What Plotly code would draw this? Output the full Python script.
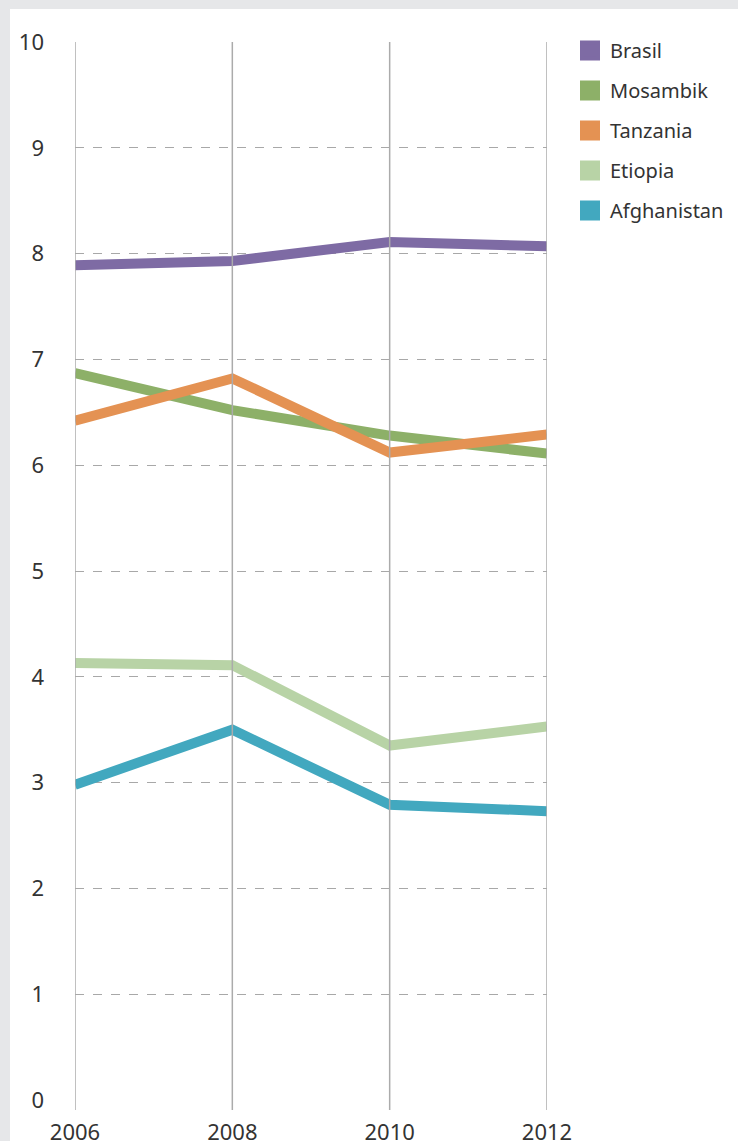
import plotly.graph_objects as go

years = [2006, 2008, 2010, 2012]
series_names = ["Brasil", "Mosambik", "Tanzania", "Etiopia", "Afghanistan"]
brasil = [7.89, 7.93, 8.11, 8.07]
mosambik = [6.87, 6.52, 6.28, 6.11]
tanzania = [6.42, 6.82, 6.12, 6.29]
etiopia = [4.13, 4.11, 3.35, 3.53]
afghanistan = [2.98, 3.50, 2.79, 2.73]
colors = ["#7e6ba4", "#8db068", "#e49253", "#b8d3a6", "#42a8bf"]
y_ticks = list(range(0, 11))

W, H = 738, 1141
ML, MR, MT, MB = 75, 191, 42, 41
PW = W - ML - MR
PH = H - MT - MB

fig = go.Figure()
values = [brasil, mosambik, tanzania, etiopia, afghanistan]
for name, vals, c in zip(series_names, values, colors):
    fig.add_trace(go.Scatter(x=years, y=vals, mode="lines", name=name,
                             line=dict(color=c, width=10), showlegend=False,
                             hoverinfo="skip"))
for name, c in zip(series_names, colors):
    fig.add_trace(go.Scatter(x=[None], y=[None], mode="markers", name=name,
                             legendgroup=name,
                             marker=dict(symbol="square", size=16, color=c,
                                         line=dict(color=c, width=4))))

font = "Noto Sans, Open Sans, sans-serif"
shapes = [
    # white card on grey background
    dict(type="rect", xref="paper", yref="paper", layer="below",
         x0=(10 - ML) / PW, x1=(W + 10 - ML) / PW,
         y0=-(MB + 10) / PH, y1=(H - MB - 9) / PH,
         fillcolor="white", line=dict(width=0)),
]
for yr in years:
    shapes.append(dict(type="line", xref="x", yref="paper", layer="above",
                       x0=yr, x1=yr, y0=-10 / PH, y1=1,
                       line=dict(color="#ababab", width=1.5)))

fig.update_layout(
    template="none",
    width=W, height=H,
    margin=dict(l=ML, r=MR, t=MT, b=MB, pad=0),
    paper_bgcolor="#e6e7e9",
    plot_bgcolor="rgba(0,0,0,0)",
    font=dict(family=font, color="#333333", size=21),
    shapes=shapes,
    xaxis=dict(range=[2006, 2012], tickvals=years, ticktext=[str(y) for y in years],
               showgrid=False, zeroline=False, showline=False, ticks="",
               automargin=False,
               ticklabelstandoff=17, tickfont=dict(size=22)),
    yaxis=dict(range=[0, 10], tickvals=y_ticks, showgrid=True,
               gridcolor="#a8a8a8", griddash="dash", gridwidth=1,
               zeroline=False, showline=False, ticks="", automargin=False,
               ticklabelstandoff=30, tickfont=dict(size=22)),
    legend=dict(xref="container", yref="container",
                x=570 / W, xanchor="left", y=1 - 31 / H, yanchor="top",
                bgcolor="rgba(0,0,0,0)", font=dict(size=20, color="#333333"),
                tracegroupgap=11, itemwidth=30),
    showlegend=True,
)

fig.write_html("out.html", config={"displayModeBar": False},
               post_script="document.body.style.margin='0';document.body.style.overflow='hidden';")
